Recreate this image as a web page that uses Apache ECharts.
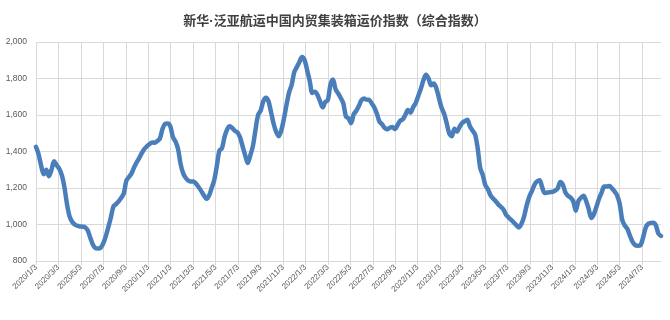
<!DOCTYPE html>
<html>
<head>
<meta charset="utf-8">
<script src="https://cdn.jsdelivr.net/npm/echarts@6/dist/echarts.min.js"></script>
<style>
  html, body { margin: 0; padding: 0; background: #fff; }
  #chart { width: 670px; height: 320px; }
</style>
</head>
<body>
<div id="chart"></div>
<script>
// weekly index, first week 2020/1/3
let startDate = "2020-01-03";
let indexValues = [
  1425, 1385, 1322, 1275, 1300, 1265, 1300, 1346, 1325, 1305,
  1270, 1205, 1112, 1045, 1015, 1000, 993, 989, 988, 985,
  968, 928, 890, 870, 868, 872, 895, 935, 985, 1040,
  1099, 1112, 1127, 1146, 1170, 1240, 1260, 1280, 1314, 1341,
  1365, 1392, 1415, 1429, 1441, 1450, 1448, 1458, 1472, 1525,
  1552, 1554, 1538, 1480, 1455, 1414, 1331, 1280, 1255, 1241,
  1236, 1236, 1223, 1204, 1183, 1160, 1140, 1158, 1200, 1243,
  1320, 1404, 1418, 1480, 1521, 1538, 1529, 1513, 1505, 1478,
  1428, 1379, 1337, 1380, 1431, 1520, 1600, 1624, 1675, 1695,
  1676, 1617, 1552, 1508, 1484, 1517, 1580, 1656, 1724, 1766,
  1835, 1863, 1891, 1918, 1901, 1845, 1785, 1721, 1728, 1709,
  1675, 1642, 1671, 1681, 1765, 1794, 1741, 1718, 1693, 1664,
  1592, 1582, 1555, 1603, 1623, 1649, 1680, 1690, 1684, 1683,
  1663, 1641, 1607, 1563, 1549, 1529, 1522, 1530, 1534, 1523,
  1545, 1568, 1576, 1600, 1627, 1613, 1642, 1665, 1704, 1743,
  1790, 1820, 1800, 1763, 1772, 1747, 1694, 1641, 1608, 1556,
  1499, 1483, 1525, 1509, 1535, 1556, 1566, 1574, 1538, 1515,
  1494, 1420, 1310, 1271, 1215, 1193, 1160, 1142, 1128, 1110,
  1097, 1082, 1053, 1038, 1025, 1011, 996, 984, 1005, 1045,
  1105, 1152, 1183, 1218, 1236, 1243, 1203, 1172, 1175, 1177,
  1179, 1185, 1198, 1233, 1218, 1175, 1157, 1147, 1128, 1075,
  1128, 1147, 1158, 1129, 1085, 1035, 1056, 1097, 1141, 1175,
  1208, 1208, 1211, 1198, 1181, 1160, 1114, 1025, 994, 975,
  937, 905, 887, 884, 886, 925, 980, 1003, 1008, 1010,
  996, 950, 937
];
let tickLabels = [
  "2020/1/3", "2020/3/3", "2020/5/3", "2020/7/3", "2020/9/3", "2020/11/3",
  "2021/1/3", "2021/3/3", "2021/5/3", "2021/7/3", "2021/9/3", "2021/11/3",
  "2022/1/3", "2022/3/3", "2022/5/3", "2022/7/3", "2022/9/3", "2022/11/3",
  "2023/1/3", "2023/3/3", "2023/5/3", "2023/7/3", "2023/9/3", "2023/11/3",
  "2024/1/3", "2024/3/3", "2024/5/3", "2024/7/3"
];

const DAY = 86400000;
let t0 = new Date(startDate + "T00:00:00Z").getTime();
let tLast = new Date("2024-07-03T00:00:00Z").getTime();
// two-month tick step in days (2020/1/3 .. 2024/7/3 split in 27 steps)
let step = (tLast - t0) / DAY / (tickLabels.length - 1);
let lastDay = (indexValues.length - 1) * 7;

let data = indexValues.map((v, i) => [i * 7, v]);

// one split line per tick, the extra one at the axis end stays hidden
let vLineColors = tickLabels.map(() => "#d9d9d9");
vLineColors.push("rgba(0,0,0,0)");

var myChart = echarts.init(document.getElementById("chart"));

let option = {
    backgroundColor: "#fff",
    animation: false,
    title: {
        text: "新华·泛亚航运中国内贸集装箱运价指数（综合指数）",
        left: "center",
        top: 10,
        textStyle: {
            fontFamily: "'Liberation Sans', 'Noto Sans CJK SC'",
            fontSize: 13,
            fontWeight: "bold",
            color: "#404040"
        }
    },
    grid: {
        left: 36,
        right: 9,
        top: 42,
        bottom: 59
    },
    xAxis: {
        type: "value",
        min: 0,
        max: lastDay,
        interval: step,
        axisLine: { show: true, lineStyle: { color: "#d9d9d9" } },
        axisTick: { show: true, length: 4, lineStyle: { color: "#d9d9d9" } },
        splitLine: { show: true, lineStyle: { color: vLineColors, width: 1 } },
        axisLabel: {
            rotate: 45,
            fontSize: 8,
            fontFamily: "Liberation Sans",
            color: "#595959",
            margin: 5,
            showMaxLabel: false,
            formatter: function (v) {
                let k = Math.round(v / step);
                if (Math.abs(v - k * step) > 0.5) return "";
                return tickLabels[k] || "";
            }
        }
    },
    yAxis: {
        type: "value",
        min: 800,
        max: 2000,
        interval: 200,
        axisLine: { show: false },
        axisTick: { show: false },
        splitLine: { lineStyle: { color: "#d9d9d9", width: 1 } },
        axisLabel: {
            fontSize: 8.5,
            fontFamily: "Liberation Sans",
            color: "#595959",
            margin: 9
        }
    },
    series: [
        {
            type: "line",
            data: data,
            showSymbol: false,
            smooth: 0.3,
            lineStyle: { color: "#4a7ebb", width: 4.5, cap: "round", join: "round" },
            itemStyle: { color: "#4a7ebb" }
        }
    ]
};

myChart.setOption(option);
</script>
</body>
</html>
